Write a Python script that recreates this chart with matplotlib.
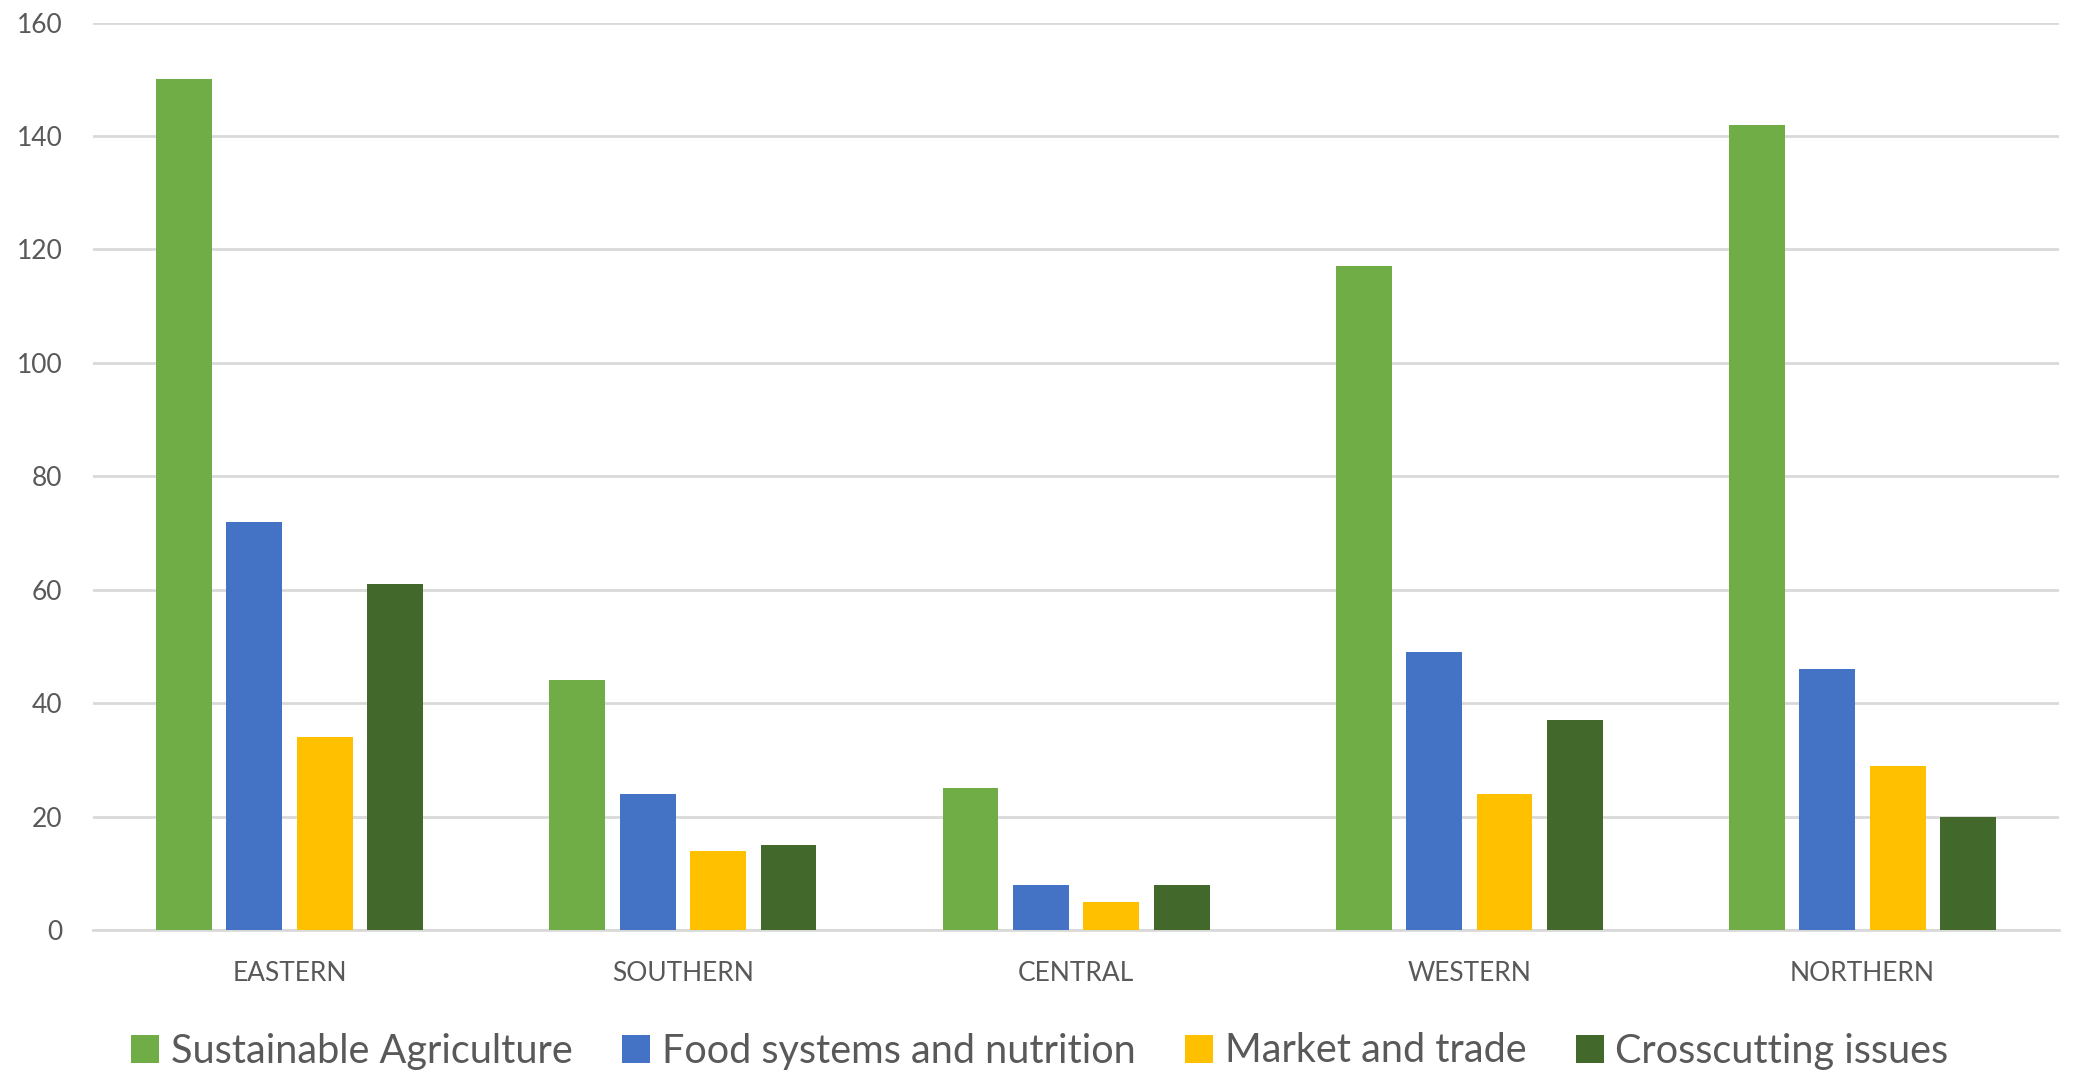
import matplotlib
matplotlib.use("Agg")
import matplotlib.pyplot as plt
import numpy as np
from matplotlib.patches import Patch

regions = ["EASTERN", "SOUTHERN", "CENTRAL", "WESTERN", "NORTHERN"]
series = ["Sustainable Agriculture", "Food systems and nutrition",
          "Market and trade", "Crosscutting issues"]
sustainable_agriculture = [150, 44, 25, 117, 142]
food_systems = [72, 24, 8, 49, 46]
market_trade = [34, 14, 5, 24, 29]
crosscutting = [61, 15, 8, 37, 20]
yticks = [0, 20, 40, 60, 80, 100, 120, 140, 160]

COLORS = ["#70AD47", "#4472C4", "#FFC000", "#43682B"]
TXT = "#595959"

plt.rcParams["font.family"] = ["Lato", "DejaVu Sans"]

fig = plt.figure(figsize=(20.8, 10.75), dpi=100)
ax = fig.add_axes([0.0447, 0.1349, 0.9453, 0.8441])

x = np.arange(len(regions))
pitch = 0.179
width = 0.142
values = [sustainable_agriculture, food_systems, market_trade, crosscutting]
for i, (vals, col) in enumerate(zip(values, COLORS)):
    ax.bar(x + (i - 1.5) * pitch, vals, width, color=col, zorder=3)

ax.set_xlim(-0.5, len(regions) - 0.5)
ax.set_ylim(0, 160)
ax.set_yticks(yticks)
ax.set_xticks(x)
ax.set_xticklabels(regions)
ax.yaxis.grid(True, color="#D9D9D9", lw=2, zorder=0)
for sp in ["top", "right", "left"]:
    ax.spines[sp].set_visible(False)
ax.spines["bottom"].set_color("#D9D9D9")
ax.spines["bottom"].set_linewidth(2)
ax.spines["bottom"].set_zorder(1)
ax.tick_params(axis="y", length=0, pad=22, labelsize=19, labelcolor=TXT)
ax.tick_params(axis="x", length=0, pad=22, labelsize=19, labelcolor=TXT)

handles = [Patch(facecolor=c, label=s) for c, s in zip(COLORS, series)]
fig.legend(handles=handles, loc="center", bbox_to_anchor=(0.5, 1 - 1051 / 1075),
           ncol=4, frameon=False, fontsize=28.5, labelcolor=TXT,
           handlelength=0.7, handleheight=0.7, handletextpad=0.3,
           columnspacing=1.25)

fig.savefig("out.png", dpi=100)
